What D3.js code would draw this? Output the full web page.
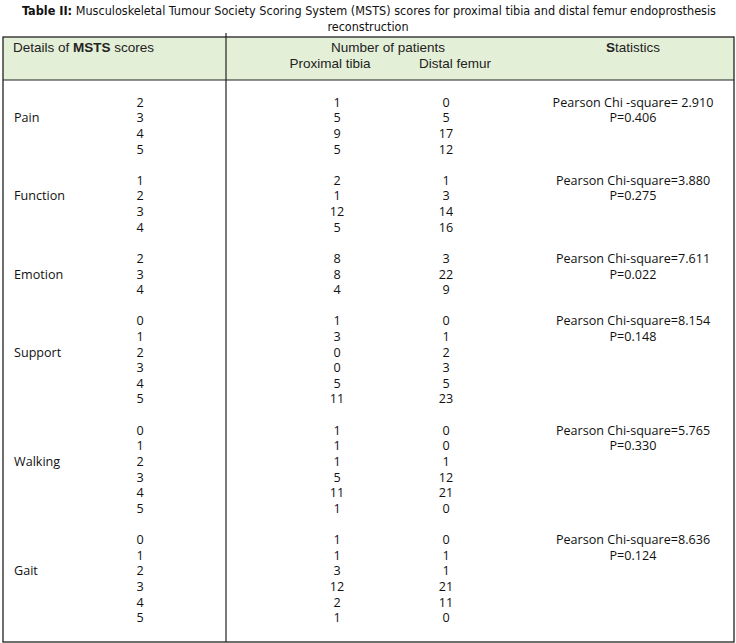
<!DOCTYPE html>
<html>
<head>
<meta charset="utf-8">
<script src="https://cdn.jsdelivr.net/npm/d3@7"></script>
<style>
  body { margin: 0; background: #fff; }
  svg { display: block; }
  .title { font-family: "Liberation Sans Narrow", "DejaVu Sans Condensed", sans-serif; font-size: 12.5px; fill: #111; }
  .head { font-family: "Liberation Sans Narrow", "Liberation Sans", sans-serif; font-size: 13.5px; fill: #222; }
  .cell { font-family: "Open Sans", "Noto Sans", sans-serif; font-size: 12.6px; fill: #111; }
</style>
</head>
<body>
<svg id="chart"></svg>
<script>
const WIDTH = 736;
const HEIGHT = 643;

const categories = ['Pain', 'Function', 'Emotion', 'Support', 'Walking', 'Gait'];
const scores = [[2, 3, 4, 5], [1, 2, 3, 4], [2, 3, 4], [0, 1, 2, 3, 4, 5], [0, 1, 2, 3, 4, 5], [0, 1, 2, 3, 4, 5]];
const proximalTibia = [[1, 5, 9, 5], [2, 1, 12, 5], [8, 8, 4], [1, 3, 0, 0, 5, 11], [1, 1, 1, 5, 11, 1], [1, 1, 3, 12, 2, 1]];
const distalFemur = [[0, 5, 17, 12], [1, 3, 14, 16], [3, 22, 9], [0, 1, 2, 3, 5, 23], [0, 0, 1, 12, 21, 0], [0, 1, 1, 21, 11, 0]];
const chiLabels = ['Pearson Chi -square= 2.910', 'Pearson Chi-square=3.880', 'Pearson Chi-square=7.611',
  'Pearson Chi-square=8.154', 'Pearson Chi-square=5.765', 'Pearson Chi-square=8.636'];
const pValues = ['P=0.406', 'P=0.275', 'P=0.022', 'P=0.148', 'P=0.330', 'P=0.124'];

const BOX = { left: 3, right: 734, top: 37, headBottom: 80, bottom: 642 };
const DIVIDER = 226;
const ROW0 = 106.7;
const ROW_STEP = 15.62;

const $svg = d3.select('#chart').attr('width', WIDTH).attr('height', HEIGHT);

// flatten groups into rows, with one blank row between groups
let rowIndex = 0;
const rows = [];
const groups = categories.map((cat, g) => {
  const start = rowIndex;
  scores[g].forEach((s, i) => {
    rows.push({ group: g, row: rowIndex, score: s, tibia: proximalTibia[g][i], femur: distalFemur[g][i] });
    rowIndex++;
  });
  rowIndex++;
  return { cat, start, n: scores[g].length, chi: chiLabels[g], p: pValues[g] };
});

const scaleY = d3.scaleLinear().domain([0, 1]).range([ROW0, ROW0 + ROW_STEP]);
const scaleX = d3.scaleOrdinal()
  .domain(['label', 'score', 'tibia', 'femur', 'stats'])
  .range([14, 140, 337, 446, 633]);

//TITLE
const title = $svg.append('text').attr('class', 'title')
  .attr('x', 22).attr('y', 15)
  .attr('textLength', 694).attr('lengthAdjust', 'spacingAndGlyphs');
title.append('tspan').attr('font-weight', 'bold').text('Table II:');
title.append('tspan').text(' Musculoskeletal Tumour Society Scoring System (MSTS) scores for proximal tibia and distal femur endoprosthesis');
$svg.append('text').attr('class', 'title')
  .attr('x', WIDTH / 2).attr('y', 31).attr('text-anchor', 'middle')
  .text('reconstruction');

//BOX
$svg.append('rect')
  .attr('x', BOX.left).attr('y', BOX.top)
  .attr('width', BOX.right - BOX.left).attr('height', BOX.headBottom - BOX.top)
  .attr('fill', '#e4efd8');
$svg.append('rect')
  .attr('x', BOX.left).attr('y', BOX.top)
  .attr('width', BOX.right - BOX.left).attr('height', BOX.bottom - BOX.top)
  .attr('fill', 'none').attr('stroke', '#222').attr('stroke-width', 1.3);
$svg.append('line')
  .attr('x1', BOX.left).attr('x2', BOX.right)
  .attr('y1', BOX.headBottom).attr('y2', BOX.headBottom)
  .attr('stroke', '#222').attr('stroke-width', 1.2);
$svg.append('line')
  .attr('x1', DIVIDER).attr('x2', DIVIDER)
  .attr('y1', 33).attr('y2', BOX.bottom)
  .attr('stroke', '#222').attr('stroke-width', 1.2);

//HEADER
const h1 = $svg.append('text').attr('class', 'head').attr('x', 13).attr('y', 52);
h1.append('tspan').text('Details of ');
h1.append('tspan').attr('font-weight', 'bold').text('MSTS');
h1.append('tspan').text(' scores');
$svg.append('text').attr('class', 'head').attr('x', 388).attr('y', 52)
  .attr('text-anchor', 'middle').text('Number of patients');
$svg.append('text').attr('class', 'head').attr('x', 330).attr('y', 68)
  .attr('text-anchor', 'middle').text('Proximal tibia');
$svg.append('text').attr('class', 'head').attr('x', 455).attr('y', 68)
  .attr('text-anchor', 'middle').text('Distal femur');
const h3 = $svg.append('text').attr('class', 'head').attr('x', 633).attr('y', 52)
  .attr('text-anchor', 'middle');
h3.append('tspan').attr('font-weight', 'bold').text('S');
h3.append('tspan').text('tatistics');

//BODY
const $body = $svg.append('g').attr('class', 'body');

$body.selectAll('text.label')
  .data(groups).join('text')
  .attr('class', 'cell label')
  .attr('x', scaleX('label'))
  .attr('y', d => scaleY(d.start + Math.floor((d.n - 1) / 2)))
  .text(d => d.cat);

['score', 'tibia', 'femur'].forEach(col => {
  $body.selectAll(`text.${col}`)
    .data(rows).join('text')
    .attr('class', `cell ${col}`)
    .attr('x', scaleX(col))
    .attr('y', d => scaleY(d.row))
    .attr('text-anchor', 'middle')
    .text(d => d[col]);
});

$body.selectAll('text.chi')
  .data(groups).join('text')
  .attr('class', 'cell chi')
  .attr('x', scaleX('stats'))
  .attr('y', d => scaleY(d.start))
  .attr('text-anchor', 'middle')
  .text(d => d.chi);

$body.selectAll('text.pval')
  .data(groups).join('text')
  .attr('class', 'cell pval')
  .attr('x', scaleX('stats'))
  .attr('y', d => scaleY(d.start + 1))
  .attr('text-anchor', 'middle')
  .text(d => d.p);
</script>
</body>
</html>
